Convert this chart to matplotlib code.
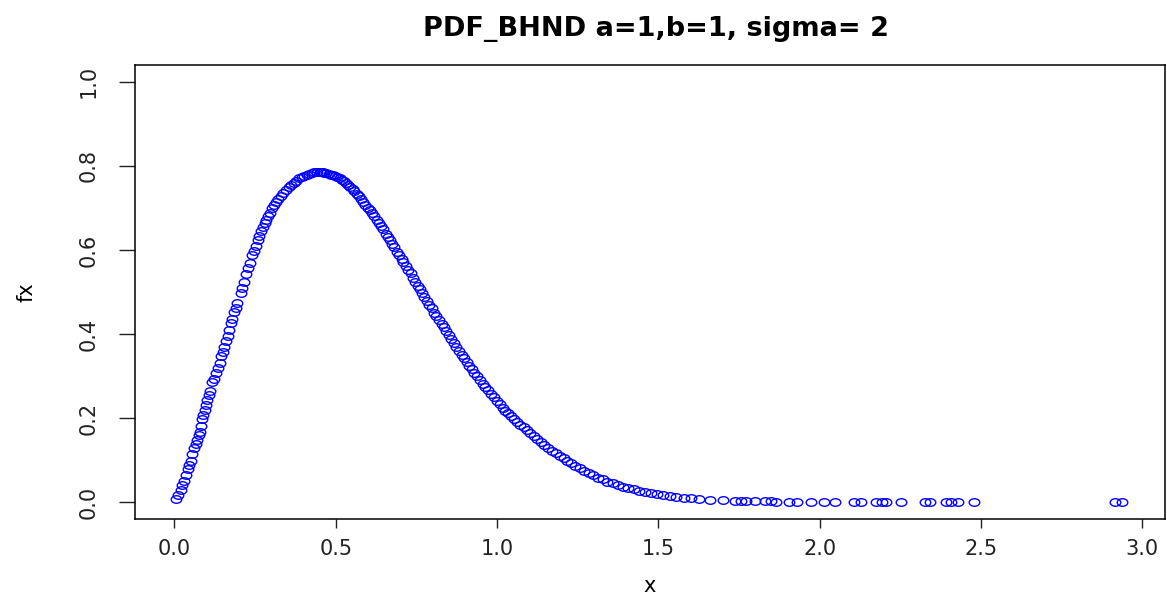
import matplotlib
matplotlib.use("Agg")
import matplotlib.pyplot as plt
from matplotlib.path import Path
from matplotlib.transforms import Affine2D

# density values
x_vals = [
    0.005, 0.012, 0.02, 0.025, 0.03, 0.036, 0.042, 0.046, 0.05, 0.056,
    0.062, 0.066, 0.07, 0.075, 0.078, 0.082, 0.087, 0.09, 0.094, 0.098,
    0.102, 0.106, 0.11, 0.118, 0.122, 0.128, 0.134, 0.14, 0.145, 0.15,
    0.155, 0.16, 0.165, 0.17, 0.176, 0.18, 0.186, 0.19, 0.195, 0.205,
    0.21, 0.215, 0.222, 0.228, 0.234, 0.242, 0.246, 0.252, 0.258, 0.263,
    0.268, 0.274, 0.28, 0.285, 0.29, 0.296, 0.303, 0.31, 0.316, 0.322,
    0.33, 0.338, 0.346, 0.355, 0.362, 0.37, 0.378, 0.386, 0.395, 0.403,
    0.41, 0.418, 0.426, 0.434, 0.442,
    0.45, 0.455, 0.46, 0.465, 0.47, 0.478, 0.485, 0.49, 0.497, 0.505,
    0.512, 0.518, 0.525, 0.532, 0.538, 0.545, 0.552, 0.558, 0.565, 0.572,
    0.578, 0.585, 0.592, 0.6, 0.606, 0.613, 0.62, 0.627, 0.633, 0.64,
    0.647, 0.655, 0.662, 0.668, 0.675, 0.682, 0.69, 0.697, 0.704, 0.71,
    0.718, 0.725, 0.732, 0.74, 0.747, 0.754, 0.76, 0.768, 0.775, 0.782,
    0.79, 0.797, 0.805, 0.812, 0.82, 0.828, 0.835, 0.843, 0.85, 0.858,
    0.866, 0.874, 0.882, 0.89, 0.898, 0.906, 0.914, 0.922, 0.93, 0.938,
    0.947, 0.955, 0.963, 0.972, 0.98, 0.99, 1.0, 1.008, 1.017, 1.026,
    1.035, 1.044, 1.053, 1.062, 1.072, 1.082, 1.092, 1.103, 1.113, 1.124,
    1.135, 1.146, 1.158, 1.17, 1.182, 1.194, 1.206, 1.218, 1.23, 1.243,
    1.256, 1.27, 1.284, 1.298, 1.312, 1.327, 1.342, 1.358, 1.374, 1.39,
    1.406, 1.423, 1.44, 1.458, 1.476, 1.495, 1.515, 1.535, 1.556, 1.578,
    1.6, 1.625, 1.661, 1.70, 1.736, 1.755, 1.772, 1.798, 1.829, 1.848,
    1.863, 1.904, 1.93, 1.974, 2.013, 2.047, 2.105, 2.127, 2.174, 2.193,
    2.205, 2.252, 2.325, 2.343, 2.39, 2.406, 2.429, 2.477, 2.915, 2.937,
]
fx_vals = [
    0.008, 0.018, 0.03, 0.04, 0.05, 0.064, 0.078, 0.088, 0.098, 0.114,
    0.13, 0.139, 0.149, 0.16, 0.168, 0.182, 0.198, 0.208, 0.219, 0.232,
    0.243, 0.254, 0.264, 0.285, 0.294, 0.307, 0.318, 0.332, 0.347, 0.358,
    0.369, 0.383, 0.396, 0.41, 0.425, 0.436, 0.452, 0.463, 0.474, 0.497,
    0.51, 0.524, 0.542, 0.556, 0.57, 0.588, 0.597, 0.61, 0.623, 0.634,
    0.644, 0.654, 0.663, 0.672, 0.68, 0.689, 0.699, 0.708, 0.715, 0.722,
    0.729, 0.736, 0.743, 0.75, 0.755, 0.76, 0.765, 0.77, 0.774, 0.777,
    0.779, 0.781, 0.783, 0.785, 0.786,
    0.786, 0.786, 0.785, 0.784, 0.783, 0.781, 0.779, 0.778, 0.776, 0.773,
    0.77, 0.767, 0.763, 0.759, 0.755, 0.75, 0.744, 0.739, 0.734, 0.728,
    0.722, 0.715, 0.708, 0.70, 0.694, 0.687, 0.68, 0.672, 0.665, 0.657,
    0.649, 0.639, 0.631, 0.623, 0.614, 0.606, 0.596, 0.588, 0.579, 0.572,
    0.562, 0.553, 0.544, 0.533, 0.524, 0.515, 0.507, 0.497, 0.488, 0.479,
    0.47, 0.461, 0.451, 0.443, 0.434, 0.424, 0.416, 0.406, 0.398, 0.388,
    0.379, 0.369, 0.36, 0.351, 0.342, 0.333, 0.324, 0.316, 0.307, 0.299,
    0.29, 0.282, 0.274, 0.266, 0.258, 0.249, 0.24, 0.233, 0.225, 0.218,
    0.211, 0.204, 0.198, 0.191, 0.184, 0.178, 0.171, 0.164, 0.157, 0.15,
    0.143, 0.136, 0.129, 0.122, 0.116, 0.11, 0.104, 0.098, 0.093, 0.087,
    0.081, 0.075, 0.069, 0.064, 0.058, 0.054, 0.049, 0.045, 0.041, 0.037,
    0.034, 0.031, 0.027, 0.024, 0.022, 0.02, 0.017, 0.015, 0.013, 0.011,
    0.009, 0.008, 0.006, 0.004, 0.003, 0.003, 0.002, 0.002, 0.002, 0.002,
    0.001, 0.001, 0.001, 0.001, 0.001, 0.001, 0.0, 0.0, 0.0, 0.0,
    0.0, 0.0, 0.0, 0.0, 0.0, 0.0, 0.0, 0.0, 0.0, 0.0,
]
x_ticks = [0.0, 0.5, 1.0, 1.5, 2.0, 2.5, 3.0]
y_ticks = [0.0, 0.2, 0.4, 0.6, 0.8, 1.0]

plt.rcParams["font.family"] = "DejaVu Sans"

# the reference is stretched sideways, so the open circles look like ellipses
ellipse = Affine2D().scale(1.4, 1.0).transform_path(Path.unit_circle())

fig = plt.figure(figsize=(11.67, 5.97), dpi=100)
ax = fig.add_axes([0.1157, 0.1307, 0.8826, 0.7605])

ax.plot(x_vals, fx_vals, linestyle="none", marker=ellipse, markersize=7.6,
        markerfacecolor="none", markeredgecolor="#0000ff", markeredgewidth=1.0)

ax.set_xlim(-0.122, 3.07)
ax.set_ylim(-0.04, 1.04)
ax.set_xticks(x_ticks)
ax.set_xticklabels([f"{t:.1f}" for t in x_ticks])
ax.set_yticks(y_ticks)
ax.set_yticklabels([f"{t:.1f}" for t in y_ticks], rotation=90, va="center")

ax.tick_params(axis="x", length=6.5, width=1.0, pad=8, labelsize=15,
               colors="#222222")
ax.tick_params(axis="y", length=11.5, width=1.0, pad=15, labelsize=15,
               colors="#222222")
for s in ax.spines.values():
    s.set_linewidth(1.1)

ax.set_xlabel("x", fontsize=15, labelpad=12)
ax.set_ylabel("fx", fontsize=15, labelpad=30)
ax.set_title("PDF_BHND a=1,b=1, sigma= 2", fontsize=19.5, fontweight="bold",
             x=0.506, pad=21)

fig.savefig("out.png", dpi=100)
